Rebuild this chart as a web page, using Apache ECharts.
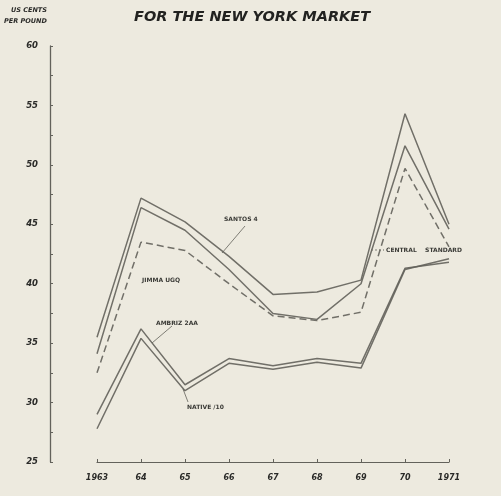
<!DOCTYPE html>
<html>
<head>
<meta charset="utf-8">
<script src="https://cdn.jsdelivr.net/npm/echarts@6/dist/echarts.min.js"></script>
<style>
  html, body { margin: 0; padding: 0; background: #edeadf; }
  #chart { width: 501px; height: 496px; }
</style>
</head>
<body>
<div id="chart"></div>
<script>
// Coffee prices, New York market, US cents per pound
const years = [1963, 1964, 1965, 1966, 1967, 1968, 1969, 1970, 1971];
const yearLabels = ['1963', '64', '65', '66', '67', '68', '69', '70', '1971'];
const santos4 = [35.5, 47.2, 45.2, 42.3, 39.1, 39.3, 40.3, 54.3, 45.0];
const centralStandard = [34.1, 46.4, 44.5, 41.2, 37.5, 37.0, 40.0, 51.6, 44.6];
const jimmaUGQ = [32.5, 43.5, 42.8, 40.0, 37.3, 36.9, 37.6, 49.7, 43.1];
const ambriz2AA = [29.0, 36.2, 31.5, 33.7, 33.1, 33.7, 33.3, 41.3, 41.8];
const native10 = [27.8, 35.4, 31.0, 33.3, 32.8, 33.4, 32.9, 41.2, 42.1];
const yTicks = [25, 30, 35, 40, 45, 50, 55, 60];

const ink = '#63625b';
const font = '"DejaVu Sans", "Liberation Sans", sans-serif';

function pairs(vals) {
  return years.map((y, i) => [y, vals[i]]);
}

function lineSeries(name, vals, dashed) {
  return {
    name: name,
    type: 'line',
    data: pairs(vals),
    symbol: 'none',
    smooth: false,
    lineStyle: {
      color: ink,
      width: 1.5,
      type: dashed ? [7, 4] : 'solid',
      opacity: 0.9
    },
    z: 3
  };
}

const chart = echarts.init(document.getElementById('chart'), null, { renderer: 'canvas' });

const option = {
  backgroundColor: '#edeadf',
  animation: false,
  title: {
    text: 'FOR THE NEW YORK MARKET',
    left: 129,
    top: 5,
    textStyle: {
      fontFamily: font,
      fontSize: 14.5,
      fontWeight: 'bold',
      fontStyle: 'italic',
      color: '#222220'
    }
  },
  grid: { left: 97, right: 52, top: 46, bottom: 34 },
  xAxis: {
    type: 'value',
    min: 1963,
    max: 1971,
    interval: 1,
    splitLine: { show: false },
    axisLine: { show: true, lineStyle: { color: ink, width: 1.2 } },
    axisTick: { show: true, inside: true, length: 3, lineStyle: { color: ink } },
    axisLabel: {
      margin: 12,
      color: '#2a2a28',
      fontFamily: font,
      fontSize: 8,
      fontWeight: 'bold',
      fontStyle: 'italic',
      formatter: v => yearLabels[years.indexOf(v)] || ''
    }
  },
  yAxis: {
    type: 'value',
    min: 25,
    max: 60,
    interval: 2.5,
    offset: 47,
    splitLine: { show: false },
    axisLine: { show: true, lineStyle: { color: ink, width: 1.3 } },
    axisTick: { show: true, inside: true, length: 3, lineStyle: { color: ink } },
    axisLabel: {
      margin: 12,
      color: '#2a2a28',
      fontFamily: font,
      fontSize: 8.5,
      fontWeight: 'bold',
      fontStyle: 'italic',
      formatter: v => (yTicks.indexOf(v) >= 0 ? String(v) : '')
    }
  },
  series: [
    lineSeries('Santos 4', santos4, false),
    lineSeries('Central Standard', centralStandard, false),
    lineSeries('Jimma UGQ', jimmaUGQ, true),
    lineSeries('Ambriz 2AA', ambriz2AA, false),
    lineSeries('Native/10', native10, false)
  ],
  graphic: [
    {
      type: 'text', left: 11, top: 7,
      style: { text: 'US CENTS', fill: '#2a2a28', font: 'italic bold 6.5px ' + font }
    },
    {
      type: 'text', left: 4, top: 18,
      style: { text: 'PER POUND', fill: '#2a2a28', font: 'italic bold 6.5px ' + font }
    },
    // series annotations
    {
      type: 'text', left: 224, top: 216,
      style: { text: 'SANTOS 4', fill: '#3a3a36', font: 'bold 6px ' + font }
    },
    {
      type: 'line', shape: { x1: 245, y1: 226, x2: 222, y2: 253 },
      style: { stroke: ink, lineWidth: 0.8 }
    },
    {
      type: 'text', left: 142, top: 277,
      style: { text: 'JIMMA UGQ', fill: '#3a3a36', font: 'bold 6px ' + font }
    },
    {
      type: 'text', left: 386, top: 247,
      style: { text: 'CENTRAL    STANDARD', fill: '#3a3a36', font: 'bold 6px ' + font }
    },
    {
      type: 'line', shape: { x1: 371, y1: 250, x2: 384, y2: 250 },
      style: { stroke: ink, lineWidth: 0.8, lineDash: [2, 2] }
    },
    {
      type: 'text', left: 156, top: 320,
      style: { text: 'AMBRIZ 2AA', fill: '#3a3a36', font: 'bold 6px ' + font }
    },
    {
      type: 'line', shape: { x1: 172, y1: 326, x2: 152, y2: 343 },
      style: { stroke: ink, lineWidth: 0.8 }
    },
    {
      type: 'text', left: 187, top: 404,
      style: { text: 'NATIVE /10', fill: '#3a3a36', font: 'bold 6px ' + font }
    },
    {
      type: 'line', shape: { x1: 188, y1: 402, x2: 183, y2: 389 },
      style: { stroke: ink, lineWidth: 0.8 }
    }
  ]
};

chart.setOption(option);
</script>
</body>
</html>
